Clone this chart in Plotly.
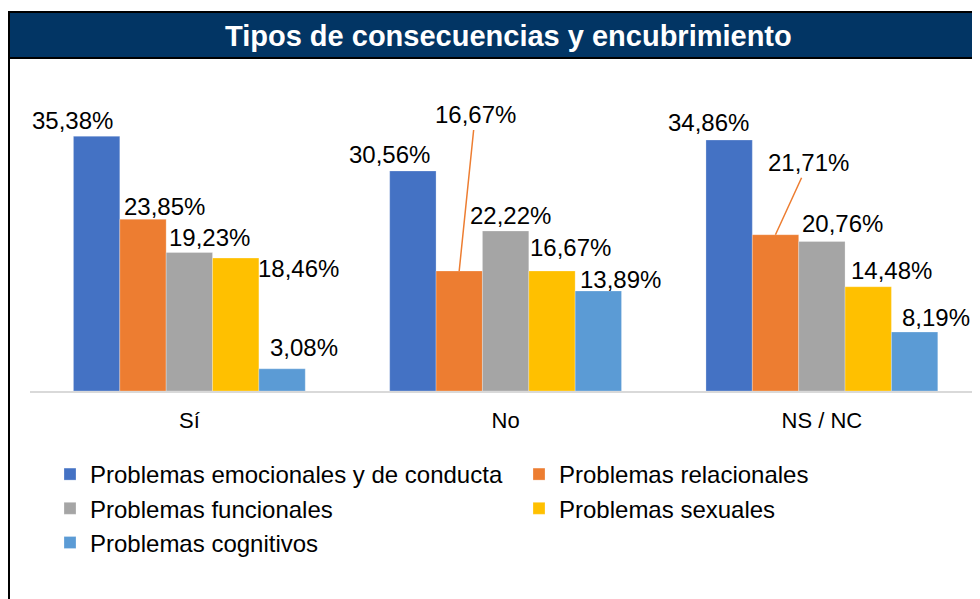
import plotly.graph_objects as go

# datos
categorias = ["Sí", "No", "NS / NC"]
series = [
    "Problemas emocionales y de conducta",
    "Problemas relacionales",
    "Problemas funcionales",
    "Problemas sexuales",
    "Problemas cognitivos",
]
emocionales = [35.38, 30.56, 34.86]
relacionales = [23.85, 16.67, 21.71]
funcionales = [19.23, 22.22, 20.76]
sexuales = [18.46, 16.67, 14.48]
cognitivos = [3.08, 13.89, 8.19]
valores = [emocionales, relacionales, funcionales, sexuales, cognitivos]

colores = ["#4472C4", "#ED7D31", "#A5A5A5", "#FFC000", "#5B9BD5"]

# desplazamiento (px) de cada etiqueta respecto al centro/tope de su barra
LABEL_DX = [
    [-24, 22, 20, 63, 22],
    [-23, 16, 5, 18, 22],
    [-21, 33, 21, 23, 21],
]
LABEL_DY = [
    [-16, -13, -15, 10, -21],
    [-16, -156, -16, -23, -11],
    [-18, -72, -18, -16, -15],
]
LEADER = {(1, 1), (2, 1)}  # etiquetas con línea guía

# geometría: la página añade 8 px de margen al cuerpo
OFF = 8
W, H = 980, 599
ML, MR = 30 - OFF, OFF          # área de trazado de x=30 a x=980 en la página
MT, MB = 103 - OFF, H - (391 - OFF)
BAR_W = (W - ML - MR) / 3 * (1 - 0.267) / 5


def px_x(p):
    # coordenada x de página -> fracción del área de trazado
    return (p - OFF - ML) / (W - ML - MR)


def px_y(p):
    return (H - MB - (p - OFF)) / (H - MT - MB)


FONT = "Liberation Sans, Arial, sans-serif"
NARROW = "Liberation Sans Narrow, Arial Narrow, Liberation Sans, Arial, sans-serif"

fig = go.Figure()
for nombre, vals, color in zip(series, valores, colores):
    fig.add_trace(go.Bar(
        x=categorias, y=vals, name=nombre,
        marker=dict(color=color, line=dict(color="rgba(255,255,255,0.5)", width=0.5)),
        hoverinfo="skip",
    ))

# etiquetas de datos
for gi, cat in enumerate(categorias):
    for si, vals in enumerate(valores):
        v = vals[gi]
        texto = f"{v:.2f}%".replace(".", ",")
        off = (si - 2) * BAR_W
        if (gi, si) in LEADER:
            fig.add_annotation(
                x=cat, y=v, xshift=off, text=texto,
                showarrow=True, arrowhead=0, arrowwidth=1.5, arrowcolor=colores[si],
                ax=LABEL_DX[gi][si], ay=LABEL_DY[gi][si], standoff=0,
                font=dict(family=NARROW, size=24, color="#000000"),
            )
        else:
            fig.add_annotation(
                x=cat, y=v, text=texto, showarrow=False,
                xshift=off + LABEL_DX[gi][si], yshift=-LABEL_DY[gi][si],
                xanchor="center", yanchor="middle",
                font=dict(family=NARROW, size=24, color="#000000"),
            )

# marco y barra de título
fig.add_shape(type="rect", xref="paper", yref="paper",
              x0=px_x(9), x1=px_x(1012), y0=px_y(12), y1=px_y(630),
              line=dict(color="#000000", width=2), fillcolor="rgba(0,0,0,0)", layer="above")
fig.add_shape(type="rect", xref="paper", yref="paper",
              x0=px_x(9), x1=px_x(1012), y0=px_y(12), y1=px_y(58),
              line=dict(color="#000000", width=2), fillcolor="#023564", layer="above")
fig.add_annotation(
    xref="paper", yref="paper", x=px_x(508), y=px_y(36),
    text="<b>Tipos de consecuencias y encubrimiento</b>", showarrow=False,
    xanchor="center", yanchor="middle",
    font=dict(family=FONT, size=29, color="#ffffff"),
)

fig.update_layout(
    width=W, height=H,
    margin=dict(l=ML, r=MR, t=MT, b=MB),
    paper_bgcolor="#ffffff", plot_bgcolor="#ffffff",
    barmode="group", bargap=0.267, bargroupgap=0,
    font=dict(family=FONT, color="#000000"),
    showlegend=True,
    legend=dict(
        orientation="h", x=px_x(62), xanchor="left", y=px_y(452), yanchor="top",
        font=dict(family=FONT, size=24, color="#000000"),
        entrywidth=424, entrywidthmode="pixels", traceorder="normal",
        bgcolor="rgba(0,0,0,0)",
    ),
    xaxis=dict(
        type="category", showline=True, linecolor="#d9d9d9", linewidth=2,
        showgrid=False, zeroline=False, ticks="", ticklabelstandoff=9,
        tickfont=dict(family=FONT, size=22, color="#000000"),
    ),
    yaxis=dict(range=[0, 40], visible=False, showgrid=False, zeroline=False),
)

fig.write_html("out.html")
